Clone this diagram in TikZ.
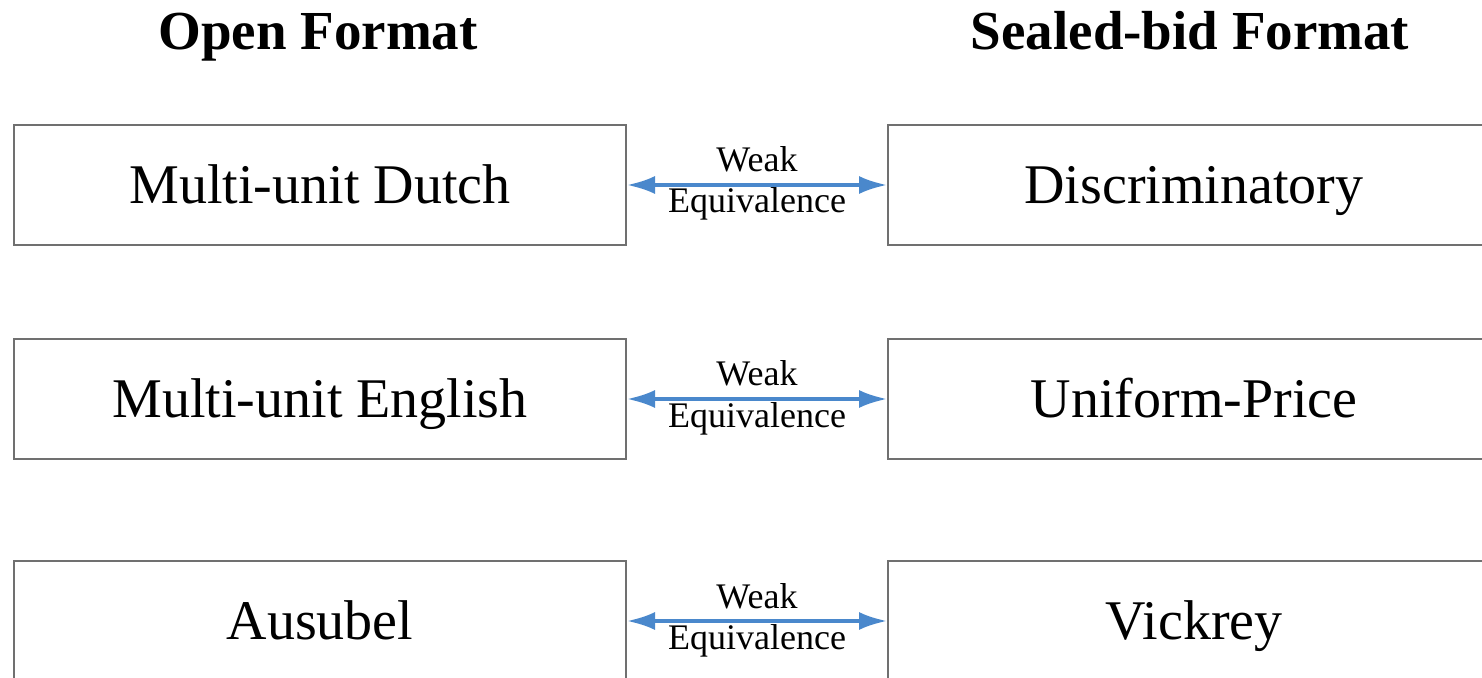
\documentclass[tikz,border=0pt]{standalone}
\usepackage{fontspec}
\setmainfont{Liberation Serif}
\usetikzlibrary{arrows.meta}
\definecolor{boxgray}{RGB}{112,112,112}
\definecolor{arrblue}{RGB}{74,136,204}
\begin{document}
\begin{tikzpicture}[x=0.5pt,y=-0.5pt,
  fmtbox/.style={draw=boxgray,line width=1pt,minimum width=306pt,minimum height=60pt,inner sep=0pt,
    font=\fontsize{28pt}{30pt}\selectfont,text height=18.5pt,text depth=0pt},
  head/.style={anchor=base,font=\bfseries\fontsize{27.5pt}{30pt}\selectfont},
  eqarr/.style={draw=arrblue,line width=1.7pt,{Latex[length=14pt,width=9pt]}-{Latex[length=14pt,width=9pt]}},
  eqlbl/.style={anchor=base,font=\fontsize{18pt}{20pt}\selectfont,inner sep=0pt}]
\useasboundingbox (0,0) rectangle (1482,678);
\clip (0,0) rectangle (1482,678);
\fill[white] (0,0) rectangle (1482,678);
\node[head] (hopen) at (318,50) {Open Format};
\node[head] (hseal) at (1190,50) {Sealed-bid Format};
\node[fmtbox] (l1) at (320,185) {Multi-unit Dutch};
\node[fmtbox] (r1) at (1194,185) {Discriminatory};
\node[fmtbox] (l2) at (320,399) {Multi-unit English};
\node[fmtbox] (r2) at (1194,399) {Uniform-Price};
\node[fmtbox] (l3) at (320,621) {Ausubel};
\node[fmtbox] (r3) at (1194,621) {Vickrey};
\draw[eqarr] (l1.east) -- (r1.west);
\draw[eqarr] (l2.east) -- (r2.west);
\draw[eqarr] (l3.east) -- (r3.west);
\node[eqlbl] (w1a) at (757,172) {Weak};
\node[eqlbl] (w1b) at (757,213) {Equivalence};
\node[eqlbl] (w2a) at (757,386) {Weak};
\node[eqlbl] (w2b) at (757,427) {Equivalence};
\node[eqlbl] (w3a) at (757,608) {Weak};
\node[eqlbl] (w3b) at (757,649) {Equivalence};
\end{tikzpicture}
\end{document}
